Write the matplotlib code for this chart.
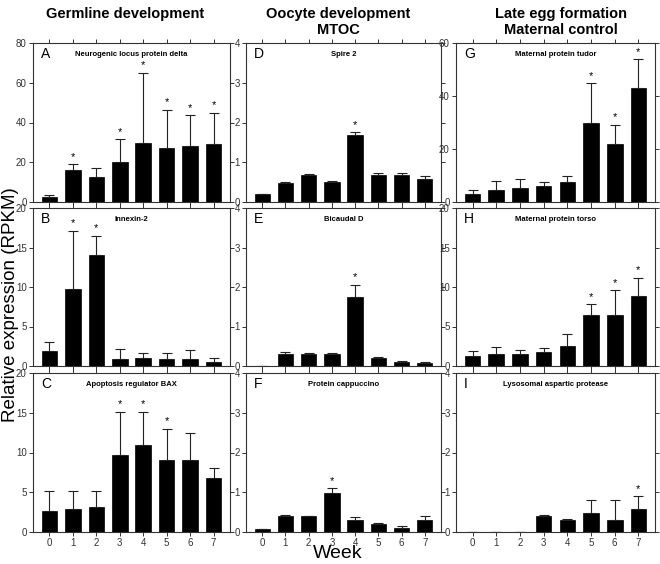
import matplotlib.pyplot as plt

plt.rcParams['font.family'] = ['Liberation Sans', 'DejaVu Sans']

weeks = [0, 1, 2, 3, 4, 5, 6, 7]

# mean, upper error bar end, weeks with a star
delta = [2.5, 16.3, 12.8, 20.0, 29.7, 27.4, 28.2, 29.2]
delta_err = [3.5, 19.0, 17.0, 31.7, 65.0, 46.5, 43.7, 45.0]
delta_star = [1, 3, 4, 5, 6, 7]

innexin = [1.9, 9.8, 14.0, 0.85, 1.0, 0.9, 0.9, 0.45]
innexin_err = [3.1, 17.1, 16.5, 2.2, 1.7, 1.7, 2.0, 1.0]
innexin_star = [1, 2]

bax = [2.6, 2.9, 3.1, 9.7, 11.0, 9.1, 9.1, 6.8]
bax_err = [5.2, 5.2, 5.1, 15.1, 15.1, 13.0, 12.4, 8.0]
bax_star = [3, 4, 5]

spire = [0.19, 0.49, 0.69, 0.50, 1.69, 0.69, 0.69, 0.59]
spire_err = [0.20, 0.50, 0.70, 0.54, 1.75, 0.74, 0.74, 0.65]
spire_star = [4]

bicaudal = [0, 0.30, 0.30, 0.30, 1.75, 0.20, 0.10, 0.085]
bicaudal_err = [0, 0.35, 0.32, 0.32, 2.06, 0.23, 0.13, 0.10]
bicaudal_star = [4]

cappuccino = [0.085, 0.39, 0.39, 0.99, 0.29, 0.20, 0.10, 0.29]
cappuccino_err = [0.085, 0.42, 0.41, 1.10, 0.37, 0.23, 0.14, 0.40]
cappuccino_star = [3]

tudor = [2.9, 4.4, 5.3, 6.2, 7.4, 29.8, 22.0, 43.1]
tudor_err = [4.4, 7.9, 8.5, 7.4, 9.8, 44.8, 29.2, 53.8]
tudor_star = [5, 6, 7]

torso = [1.3, 1.5, 1.5, 1.8, 2.5, 6.45, 6.45, 8.8]
torso_err = [1.85, 2.35, 2.0, 2.25, 4.0, 7.85, 9.6, 11.15]
torso_star = [5, 6, 7]

lysosomal = [0, 0, 0, 0.39, 0.29, 0.49, 0.29, 0.59]
lysosomal_err = [0, 0, 0, 0.43, 0.32, 0.80, 0.80, 0.90]
lysosomal_star = [7]

panels = [
    # letter, title, means, err tops, stars, ymax, ystep
    ('A', 'Neurogenic locus protein delta', delta, delta_err, delta_star, 80, 20),
    ('B', 'Innexin-2', innexin, innexin_err, innexin_star, 20, 5),
    ('C', 'Apoptosis regulator BAX', bax, bax_err, bax_star, 20, 5),
    ('D', 'Spire 2', spire, spire_err, spire_star, 4, 1),
    ('E', 'Bicaudal D', bicaudal, bicaudal_err, bicaudal_star, 4, 1),
    ('F', 'Protein cappuccino', cappuccino, cappuccino_err, cappuccino_star, 4, 1),
    ('G', 'Maternal protein tudor', tudor, tudor_err, tudor_star, 60, 20),
    ('H', 'Maternal protein torso', torso, torso_err, torso_star, 20, 5),
    ('I', 'Lysosomal aspartic protease', lysosomal, lysosomal_err, lysosomal_star, 4, 1),
]

col_left = [33, 246, 456]
col_right = [230, 441, 655]
row_top = [43, 208, 373]
row_bot = [202, 366, 532]
W, H = 660, 564

fig = plt.figure(figsize=(6.6, 5.64), dpi=100)

for i, (letter, title, vals, errs, stars, ymax, ystep) in enumerate(panels):
    c, r = i // 3, i % 3
    ax = fig.add_axes([col_left[c] / W, 1 - row_bot[r] / H,
                       (col_right[c] - col_left[c]) / W,
                       (row_bot[r] - row_top[r]) / H])
    ax.bar(weeks, vals, width=0.66, color='black', edgecolor='black', linewidth=0.5)
    lo = [0] * len(vals)
    hi = [e - v for v, e in zip(vals, errs)]
    ax.errorbar(weeks, vals, yerr=[lo, hi], fmt='none', ecolor='#222222',
                elinewidth=0.8, capsize=3.6, capthick=0.8)
    for s in stars:
        ax.text(s, errs[s] + ymax * 0.015, '*', ha='center', va='bottom', fontsize=8)
    ax.set_xlim(-0.7, 7.7)
    ax.set_ylim(0, ymax)
    ax.set_yticks(range(0, ymax + 1, ystep))
    ax.set_xticks(weeks)
    if r == 2:
        ax.set_xticklabels([str(w) for w in weeks])
    else:
        ax.set_xticklabels([])
    ax.tick_params(axis='both', labelsize=7, length=3, width=0.7, pad=1.5,
                   colors='#333333')
    ax.tick_params(axis='x', top=True, direction='out')
    ax.tick_params(axis='y', right=True, direction='out')
    for sp in ax.spines.values():
        sp.set_linewidth(0.8)
        sp.set_color('#333333')
    ax.text(0.04, 0.93, letter, transform=ax.transAxes, fontsize=10,
            ha='left', va='center')
    ax.text(0.5, 0.93, title, transform=ax.transAxes, fontsize=5.5,
            fontweight='bold', ha='center', va='center')

fig.text(125 / W, 1 - 14 / H, 'Germline development', fontsize=10.5,
         fontweight='bold', ha='center', va='center')
fig.text(338 / W, 1 - 22 / H, 'Oocyte development\nMTOC', fontsize=10.5,
         fontweight='bold', ha='center', va='center', linespacing=1.25)
fig.text(561 / W, 1 - 22 / H, 'Late egg formation\nMaternal control', fontsize=10.5,
         fontweight='bold', ha='center', va='center', linespacing=1.25)
fig.text(11 / W, 1 - 305 / H, 'Relative expression (RPKM)', fontsize=13.5,
         rotation=90, ha='center', va='center')
fig.text(338 / W, 1 - 554 / H, 'Week', fontsize=14, ha='center', va='center')

fig.savefig('out.png', dpi=100)
